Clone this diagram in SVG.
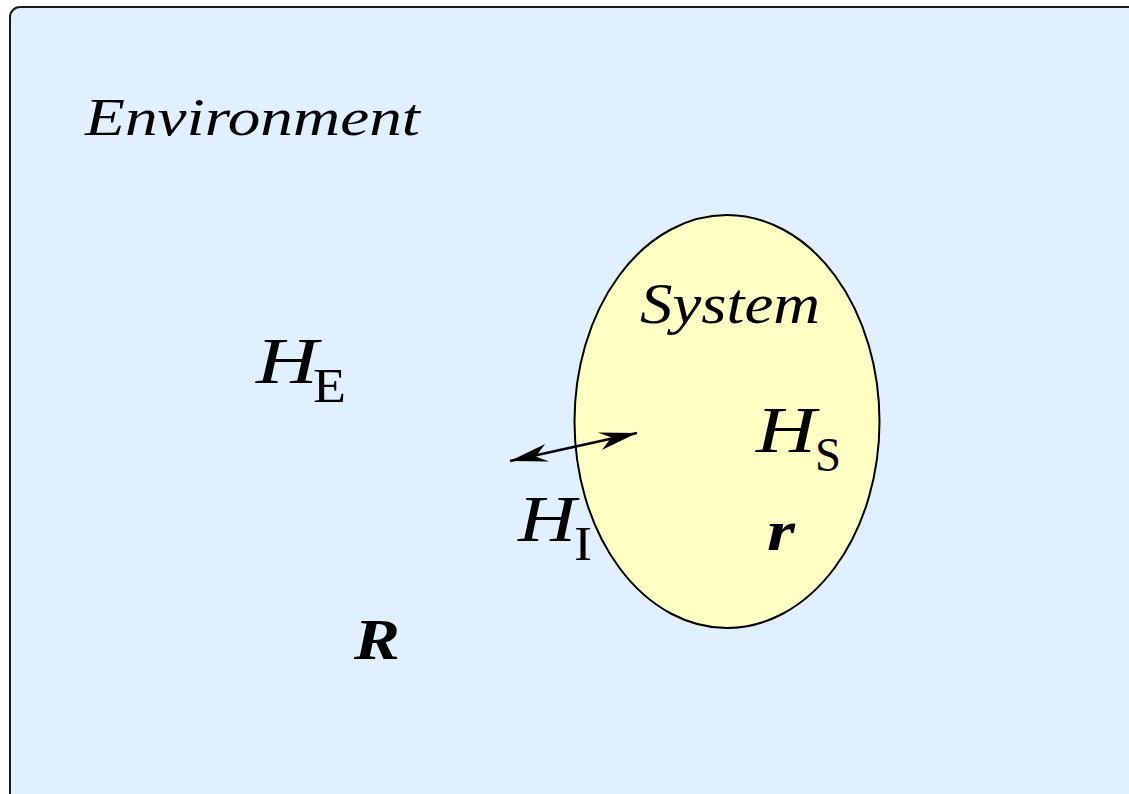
<svg xmlns="http://www.w3.org/2000/svg" width="1129" height="794" viewBox="0 0 1129 794">
<style>
.it{font-family:"Liberation Serif","DejaVu Serif",serif;font-style:italic;fill:#000}
.rm{font-family:"Liberation Serif","DejaVu Serif",serif;fill:#000}
.bi{font-family:"Liberation Serif","DejaVu Serif",serif;font-style:italic;font-weight:bold;fill:#000}
</style>
<defs>
<marker id="ah" markerUnits="userSpaceOnUse" markerWidth="50" markerHeight="30" viewBox="-40 -15 50 30" refX="0" refY="0" orient="auto-start-reverse">
<path d="M0,0 L-38,-9 L-26,-1 L-38,9 Z" fill="#000"/>
</marker>
</defs>
<rect x="0" y="0" width="1129" height="794" fill="#ffffff"/>
<g id="environment">
<rect x="10" y="7" width="1140" height="810" rx="10" fill="#e0f0ff" stroke="#1a1a1a" stroke-width="2"/>
<text class="it" x="85" y="135" font-size="53" textLength="335" lengthAdjust="spacingAndGlyphs">Environment</text>
<text class="it" x="256" y="383" font-size="66" textLength="62" lengthAdjust="spacingAndGlyphs">H</text>
<text class="rm" x="313" y="402" font-size="48" textLength="33" lengthAdjust="spacingAndGlyphs">E</text>
<text class="bi" x="354" y="659" font-size="58" textLength="46" lengthAdjust="spacingAndGlyphs">R</text>
</g>
<g id="system">
<ellipse cx="727" cy="421.5" rx="152.5" ry="206.5" fill="#ffffc4" stroke="#000" stroke-width="2"/>
<text class="it" x="640" y="323" font-size="57" textLength="180" lengthAdjust="spacingAndGlyphs">System</text>
<text class="it" x="756" y="452" font-size="66" textLength="60" lengthAdjust="spacingAndGlyphs">H</text>
<text class="rm" x="815" y="471" font-size="48" textLength="26" lengthAdjust="spacingAndGlyphs">S</text>
<text class="bi" x="767" y="550" font-size="56" textLength="28" lengthAdjust="spacingAndGlyphs">r</text>
</g>
<g id="interaction">
<text class="it" x="518" y="541" font-size="66" textLength="58" lengthAdjust="spacingAndGlyphs">H</text>
<text class="rm" x="574" y="560" font-size="48" textLength="18" lengthAdjust="spacingAndGlyphs">I</text>
</g>
<g id="connectors">
<line x1="510" y1="461" x2="637" y2="433" stroke="#000" stroke-width="2.5" marker-start="url(#ah)" marker-end="url(#ah)"/>
</g>
</svg>
